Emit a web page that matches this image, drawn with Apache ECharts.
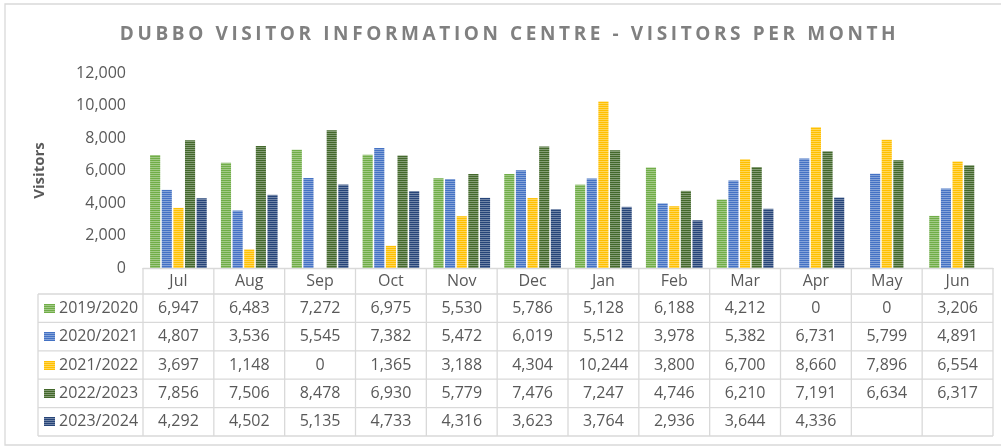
<!DOCTYPE html>
<html>
<head>
<meta charset="utf-8">
<script src="https://cdn.jsdelivr.net/npm/echarts@6/dist/echarts.min.js"></script>
<style>
  html, body { margin: 0; padding: 0; background: #fff; }
  #wrap { position: relative; width: 1001px; height: 446px; }
  #main { width: 1001px; height: 446px; }
  #title {
    position: absolute; left: 9px; top: 21px; width: 1001px;
    text-align: center; font: bold 19px "Open Sans", sans-serif;
    letter-spacing: 3.6px; color: #808080; line-height: 24px;
  }
</style>
</head>
<body>
<div id="wrap">
  <div id="main"></div>
  <div id="title">DUBBO VISITOR INFORMATION CENTRE - VISITORS PER MONTH</div>
</div>
<script>
var months = ['Jul', 'Aug', 'Sep', 'Oct', 'Nov', 'Dec', 'Jan', 'Feb', 'Mar', 'Apr', 'May', 'Jun'];
var years = ['2019/2020', '2020/2021', '2021/2022', '2022/2023', '2023/2024'];
var v2019 = [6947, 6483, 7272, 6975, 5530, 5786, 5128, 6188, 4212, 0, 0, 3206];
var v2020 = [4807, 3536, 5545, 7382, 5472, 6019, 5512, 3978, 5382, 6731, 5799, 4891];
var v2021 = [3697, 1148, 0, 1365, 3188, 4304, 10244, 3800, 6700, 8660, 7896, 6554];
var v2022 = [7856, 7506, 8478, 6930, 5779, 7476, 7247, 4746, 6210, 7191, 6634, 6317];
var v2023 = [4292, 4502, 5135, 4733, 4316, 3623, 3764, 2936, 3644, 4336, null, null];
var colors = ['#70AD47', '#4472C4', '#FFC000', '#43682B', '#264478'];

var allValues = [v2019, v2020, v2021, v2022, v2023];
var textColor = '#595959';
var lineColor = '#d9d9d9';
var font = '"Open Sans", sans-serif';

// striped fill like the excel pattern
function stripes(c, w, h) {
  var cv = document.createElement('canvas');
  cv.width = w || 4;
  cv.height = h || 2;
  var ctx = cv.getContext('2d');
  ctx.fillStyle = c;
  ctx.fillRect(0, 0, cv.width, cv.height);
  ctx.fillStyle = 'rgba(255,255,255,0.35)';
  for (var y = 1; y < cv.height; y += 2) {
    ctx.fillRect(0, y, cv.width, 1);
  }
  return cv;
}

var chart = echarts.init(document.getElementById('main'));

var series = [];
for (var i = 0; i < years.length; i++) {
  series.push({
    name: years[i],
    type: 'bar',
    barCategoryGap: '20%',
    barGap: '15%',
    itemStyle: { color: { image: stripes(colors[i]), repeat: 'repeat' } },
    data: allValues[i]
  });
}

var option = {
  animation: false,
  backgroundColor: '#fff',
  grid: { left: 143, right: 8, top: 73, bottom: 178 },
  xAxis: {
    type: 'category',
    data: months,
    axisLine: { lineStyle: { color: lineColor, width: 1.3 } },
    axisTick: { show: false },
    axisLabel: { show: false }
  },
  yAxis: {
    type: 'value',
    min: 0,
    max: 12000,
    interval: 2000,
    name: 'Visitors',
    nameLocation: 'middle',
    nameGap: 96,
    nameTextStyle: { color: textColor, fontSize: 15, fontWeight: 'bold', fontFamily: font },
    axisLine: { show: false },
    axisTick: { show: false },
    splitLine: { show: false },
    axisLabel: {
      color: textColor, fontSize: 16, fontFamily: font, margin: 17,
      formatter: function (v) { return v.toLocaleString('en-US'); }
    }
  },
  series: series
};
chart.setOption(option);

// data table under the plot
var c0 = chart.convertToPixel({ xAxisIndex: 0 }, 0);
var c1 = chart.convertToPixel({ xAxisIndex: 0 }, 1);
var colW = c1 - c0;
var tLeft = c0 - colW / 2;
var tRight = tLeft + colW * months.length;
var tTop = chart.convertToPixel({ yAxisIndex: 0 }, 0);
var headH = 26;
var rowH = 28.4;
var legLeft = 38;
var tBottom = tTop + headH + rowH * years.length;

var g = [];
g.push({ type: 'rect', shape: { x: 5, y: 4, width: 1010, height: 441 },
  style: { fill: null, stroke: lineColor, lineWidth: 1.3 }, silent: true });

function hline(y, x1, x2) {
  g.push({ type: 'line', shape: { x1: x1, y1: y, x2: x2, y2: y },
    style: { stroke: lineColor, lineWidth: 1.3 }, silent: true });
}
function vline(x, y1, y2) {
  g.push({ type: 'line', shape: { x1: x, y1: y1, x2: x, y2: y2 },
    style: { stroke: lineColor, lineWidth: 1.3 }, silent: true });
}
function label(t, x, y, align) {
  g.push({ type: 'text', x: x, y: y,
    style: { text: t, fill: textColor, font: '16px ' + font, textAlign: align || 'center', textVerticalAlign: 'middle' },
    silent: true });
}

for (var r = 0; r <= years.length; r++) {
  hline(tTop + headH + r * rowH, legLeft, tRight);
}
vline(legLeft, tTop + headH, tBottom);
for (var k = 0; k <= months.length; k++) {
  vline(tLeft + k * colW, tTop, tBottom);
}
for (var m = 0; m < months.length; m++) {
  var cx = chart.convertToPixel({ xAxisIndex: 0 }, m);
  label(months[m], cx, tTop + headH / 2);
  for (var s = 0; s < years.length; s++) {
    var val = allValues[s][m];
    if (val !== null) {
      label(val.toLocaleString('en-US'), cx, tTop + headH + rowH * s + rowH / 2);
    }
  }
}
for (var s2 = 0; s2 < years.length; s2++) {
  var cy = tTop + headH + rowH * s2 + rowH / 2;
  g.push({ type: 'image', x: 44, y: Math.round(cy - 4.5),
    style: { image: stripes(colors[s2], 11, 9).toDataURL(), width: 11, height: 9 }, silent: true });
  label(years[s2], 59, cy, 'left');
}

chart.setOption({ graphic: g });
</script>
</body>
</html>
